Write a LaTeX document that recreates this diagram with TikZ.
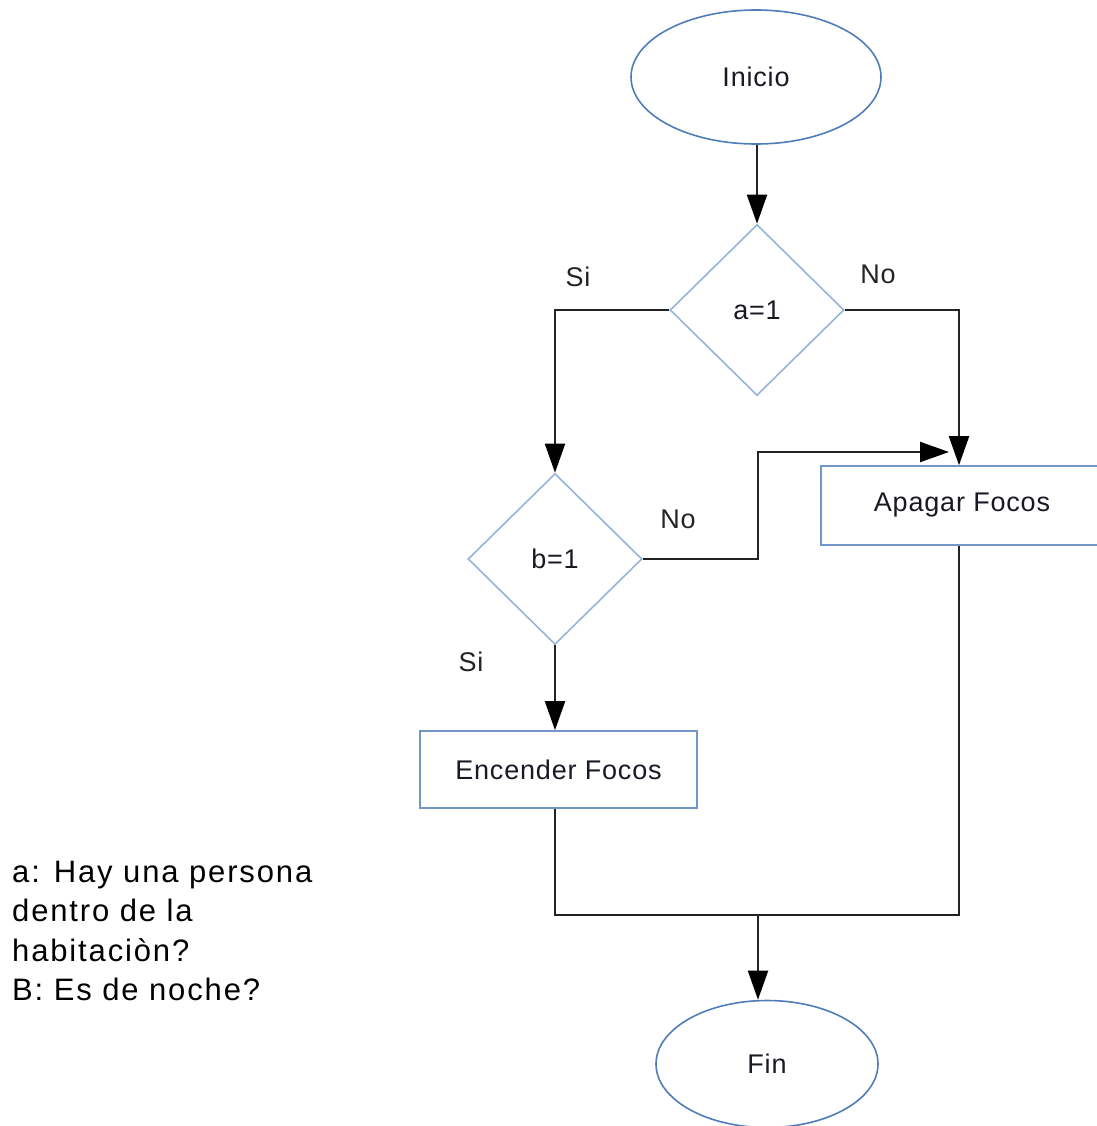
\documentclass[tikz,border=0pt]{standalone}
\usepackage{fontspec}
\setmainfont{Liberation Sans}
\usetikzlibrary{shapes.geometric,arrows.meta}
\definecolor{ellblue}{RGB}{79,125,185}
\definecolor{diablue}{RGB}{150,180,215}
\definecolor{boxblue}{RGB}{115,150,200}
\definecolor{linec}{RGB}{35,35,35}
\definecolor{txt}{RGB}{25,25,35}
\begin{document}
\begin{tikzpicture}[x=1pt,y=-1pt,
  every node/.style={font=\fontsize{27}{32}\selectfont\addfontfeature{LetterSpace=3}, text=txt},
  term/.style={ellipse, draw=ellblue, line width=1.6pt, inner sep=0pt},
  decis/.style={diamond, draw=diablue, line width=1.6pt, inner sep=0pt, minimum width=174pt, minimum height=171pt},
  procbox/.style={rectangle, draw=boxblue, line width=1.6pt, inner sep=0pt},
  conn/.style={draw=linec, line width=2pt},
  arr/.style={conn, -{Triangle[length=29pt,width=20pt,color=black]}},
  lbl/.style={text=linec}]
\useasboundingbox (0,0) rectangle (1096,1126);
\node[term, minimum width=250pt, minimum height=134pt] (ini) at (756,77) {Inicio};
\node[decis] (da) at (757,310) {a=1};
\node[decis] (db) at (555,559) {b=1};
\node[procbox, minimum width=278pt, minimum height=79pt] (apa) at (960,505.5) {};
\node at (962,505.5) {Apagar Focos};
\node[procbox, minimum width=277pt, minimum height=77pt] (enc) at (558.5,769.5) {Encender Focos};
\node[term, minimum width=222pt, minimum height=127pt] (fin) at (767,1064) {Fin};
\coordinate (j) at (949,452);
\coordinate (m) at (758,915);
\draw[arr] (ini.south -| da.north) -- (da.north);
\draw[arr] (da.west) -| (db.north);
\draw[arr] (da.east) -| (apa.north -| 959,0);
\draw[arr] (db.east) -- ++(115,0) |- (j);
\draw[arr] (db.south) -- (enc.north -| db.south);
\draw[conn] (enc.south -| db.south) |- (m) -- (m -| 959,0) -- (apa.south -| 959,0);
\draw[arr] (m) -- (m |- fin.north);
\node[lbl] at (578,277) {Si};
\node[lbl] at (878,274) {No};
\node[lbl] at (678,519) {No};
\node[lbl] at (471,662) {Si};
\node[anchor=north west, align=left, inner sep=0pt, text=black,
  font=\fontsize{31}{39.3}\selectfont\addfontfeature{LetterSpace=6}] (leg) at (12,861)
  {a: Hay una persona\\dentro de la\\habitaciòn?\\B: Es de noche?};
\end{tikzpicture}
\end{document}
